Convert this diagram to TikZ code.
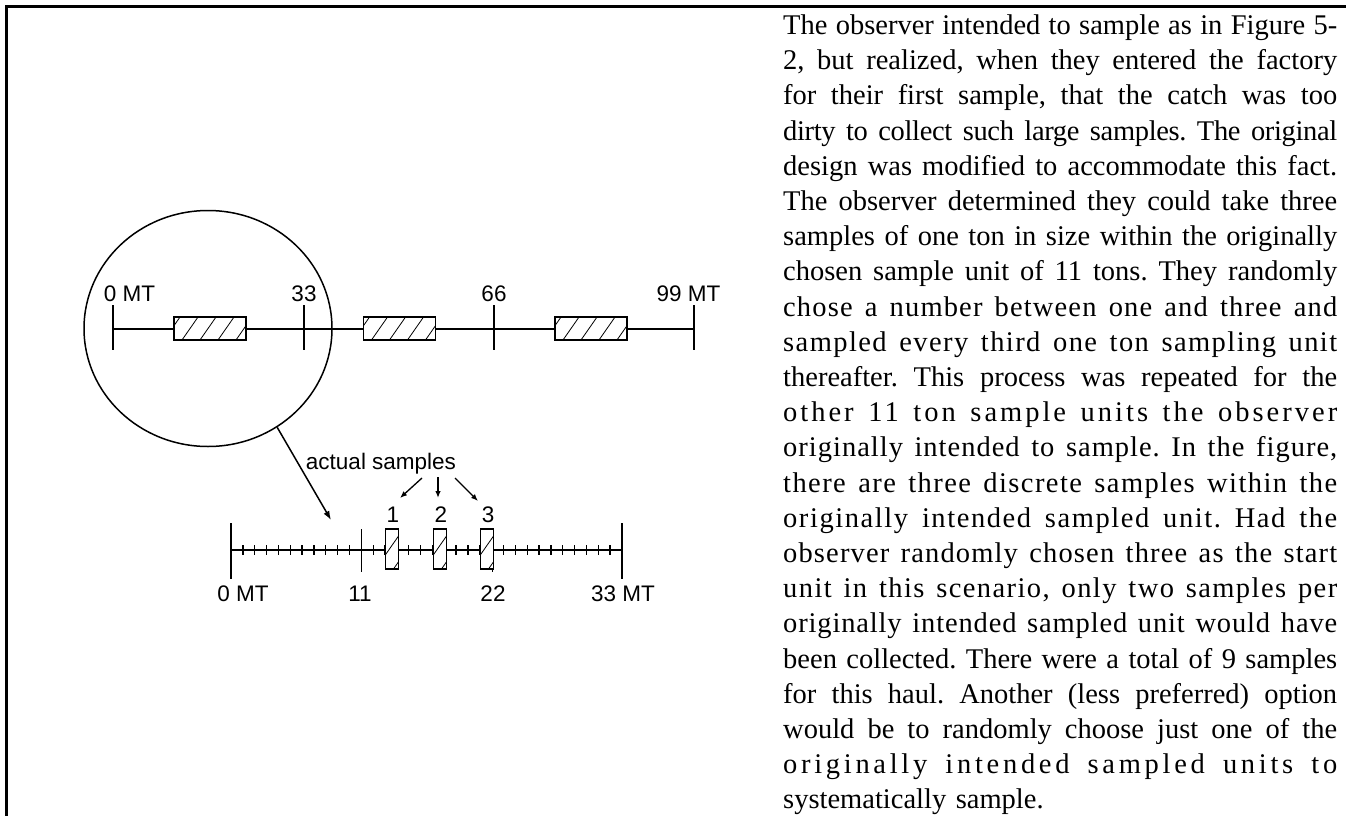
\documentclass[tikz,border=0pt]{standalone}
\usepackage{fontspec}
\setmainfont{Liberation Serif}
\newfontfamily\labfont{Liberation Sans}
\usetikzlibrary{arrows.meta,shapes.geometric}
\newcommand\jl[2][0]{\noindent\hbox to 554pt{\addfontfeature{LetterSpace=#1}\spaceskip=0.25em plus 1fil minus 0.06em\relax #2}}
\begin{document}
\begin{tikzpicture}[x=1pt,y=-1pt,
  lab/.style={font=\labfont\fontsize{22.5}{26}\selectfont, inner sep=0pt, anchor=base},
  axis/.style={line width=1.5pt},
  smalltick/.style={line width=1.3pt},
  frameline/.style={line width=3pt},
  ptr/.style={line width=1.3pt, -{Latex[length=7pt,width=5.5pt]}},
  bigptr/.style={line width=1.5pt, -{Latex[length=9pt,width=6.5pt]}},
  hatched/.style={draw, line width=1.4pt, fill=white, inner sep=0pt, rectangle,
    path picture={\foreach \k in {-4,...,6}{\draw[line width=0.8pt]
      ([xshift=\k*18pt+8pt]path picture bounding box.south west) -- ++(30pt,43pt);}}},
  body/.style={font=\fontsize{28.5}{35.2}\selectfont\frenchspacing, inner sep=0pt, anchor=north west,
    text width=554pt, align=left}
]
\useasboundingbox (0,0) rectangle (1346,816);
% frame
\draw[frameline] (6.5,816) -- (6.5,6.5) -- (1346,6.5);

% zoom circle
\node[draw, ellipse, line width=1.5pt, minimum width=248pt, minimum height=236pt, inner sep=0pt] (circ) at (208,328.5) {};

% top axis
\coordinate (A0) at (113,329);
\coordinate (A9) at (694,329);
\draw[axis] (A0) -- (A9);
\foreach \x in {113,304,494,694} \draw[axis] (\x,305) -- (\x,350);
\node[lab] (l0) at (129.5,301) {0 MT};
\node[lab] (l33) at (304,301) {33};
\node[lab] (l66) at (494,301) {66};
\node[lab] (l99) at (688.5,301) {99 MT};
\node[hatched, minimum width=72pt, minimum height=23pt] (u1) at (210,328.5) {};
\node[hatched, minimum width=72pt, minimum height=23pt] (u2) at (399.5,328.5) {};
\node[hatched, minimum width=72pt, minimum height=23pt] (u3) at (591,328.5) {};

% zoom arrow
\coordinate (zt) at (331,520);
\draw[bigptr] (circ.-55) -- (zt);

% bottom axis
\coordinate (B0) at (231,550);
\coordinate (B33) at (622,550);
\draw[axis] (B0) -- (B33);
\foreach \u in {1,...,32} \draw[smalltick] ({231+\u*11.848},545) -- ++(0,10);
\foreach \x in {231,622} \draw[axis] (\x,523) -- (\x,579);
\foreach \x in {361.3,492.7} \draw[axis] (\x,529) -- (\x,572);
\node[hatched, minimum width=13pt, minimum height=40pt] (s1) at (392,549) {};
\node[hatched, minimum width=13pt, minimum height=40pt] (s2) at (440,549) {};
\node[hatched, minimum width=13pt, minimum height=40pt] (s3) at (487,549) {};
\node[lab] (b0) at (243,601) {0 MT};
\node[lab] (b11) at (360,601) {11};
\node[lab] (b22) at (493,601) {22};
\node[lab] (b33) at (623,601) {33 MT};

% actual samples
\node[lab] (as) at (381,469) {actual samples};
\node[lab] (n1) at (393,522) {1};
\node[lab] (n2) at (441,522) {2};
\node[lab] (n3) at (488,522) {3};
\coordinate (a1) at (422,478);
\coordinate (a2) at (438,477);
\coordinate (a3) at (455,478);
\draw[ptr] (a1) -- (400,498);
\draw[ptr] (a2) -- (438,498);
\draw[ptr] (a3) -- (478,501);

% text
\node[body] (txt) at (783,14.5) {%
\jl{The observer intended to sample as in Figure 5-}\\
\jl{2, but realized, when they entered the factory}\\
\jl{for their first sample, that the catch was too}\\
\jl[-1.2]{dirty to collect such large samples. The original}\\
\jl{design was modified to accommodate this fact.}\\
\jl{The observer determined they could take three}\\
\jl{samples of one ton in size within the originally}\\
\jl{chosen sample unit of 11 tons. They randomly}\\
\jl[4]{chose a number between one and three and}\\
\jl[5]{sampled every third one ton sampling unit}\\
\jl{thereafter. This process was repeated for the}\\
\jl[10.5]{other 11 ton sample units the observer}\\
\jl[3.5]{originally intended to sample. In the figure,}\\
\jl[5]{there are three discrete samples within the}\\
\jl[5.5]{originally intended sampled unit. Had the}\\
\jl[4]{observer randomly chosen three as the start}\\
\jl[5]{unit in this scenario, only two samples per}\\
\jl[3]{originally intended sampled unit would have}\\
\jl{been collected. There were a total of 9 samples}\\
\jl{for this haul. Another (less preferred) option}\\
\jl{would be to randomly choose just one of the}\\
\jl[13]{originally intended sampled units to}\\
\noindent systematically sample.};
\end{tikzpicture}
\end{document}
